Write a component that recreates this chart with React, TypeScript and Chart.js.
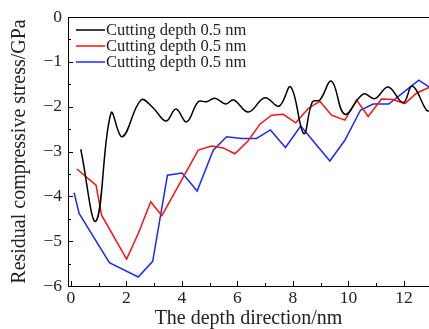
import React, { useEffect, useRef } from "react";
import { Chart, registerables } from "chart.js";

Chart.register(...registerables);

// ---- data ----
const seriesLabels = ["Cutting depth 0.5 nm", "Cutting depth 0.5 nm", "Cutting depth 0.5 nm"];

const blackDepth = [0.36, 0.91, 1.45, 1.86, 2.53, 2.97, 3.43, 3.79, 4.17, 4.59, 4.89, 5.19, 5.58, 5.87, 6.39, 6.99, 7.5, 7.92, 8.39, 8.7, 8.97, 9.39, 9.87, 10.53, 10.95, 11.43, 11.97, 12.3, 12.81, 12.95];
const blackStress = [-2.95, -4.55, -2.14, -2.67, -1.85, -2.03, -2.32, -2.05, -2.34, -1.89, -1.89, -1.81, -1.94, -1.85, -2.12, -1.8, -1.99, -1.56, -2.6, -1.89, -1.85, -1.43, -2.17, -1.72, -1.82, -1.56, -1.91, -1.54, -2.08, -2.1];

const redDepth = [0.22, 0.91, 1.11, 2.01, 2.43, 2.88, 3.28, 4.59, 5.07, 5.49, 5.91, 6.39, 6.81, 7.23, 7.65, 8.1, 8.55, 8.97, 9.39, 9.87, 10.29, 10.71, 11.19, 11.6, 12.03, 12.45, 12.9];
const redStress = [-3.39, -3.75, -4.42, -5.4, -4.83, -4.12, -4.43, -2.97, -2.88, -2.92, -3.05, -2.76, -2.39, -2.19, -2.17, -2.36, -2.04, -1.88, -2.19, -2.3, -1.85, -2.22, -1.83, -1.84, -1.93, -1.7, -1.57];

const blueDepth = [0.12, 0.3, 1.39, 2.43, 2.95, 3.48, 4.01, 4.55, 5.13, 5.61, 6.15, 6.69, 7.19, 7.73, 8.28, 9.33, 9.87, 10.43, 10.89, 11.45, 12.0, 12.53, 12.9];
const blueStress = [-3.92, -4.38, -5.48, -5.8, -5.45, -3.53, -3.48, -3.88, -2.97, -2.67, -2.71, -2.71, -2.52, -2.91, -2.43, -3.21, -2.75, -2.08, -1.94, -1.94, -1.67, -1.41, -1.56];

const xTickValues = [0, 2, 4, 6, 8, 10, 12];
const yTickValues = [0, -1, -2, -3, -4, -5, -6];

const xTitle = "The depth direction/nm";
const yTitle = "Residual compressive stress/GPa";

const FONT = "'Liberation Serif', 'Times New Roman', serif";
const TEXT = "#222";

const toPoints = (xs: number[], ys: number[]) => xs.map((x, i) => ({ x, y: ys[i] }));

const fmt = (v: number) => (v < 0 ? "\u2212" + Math.abs(v) : String(v));

const decorPlugin = {
  id: "decor",
  afterDatasetsDraw(chart: any) {
    const { ctx, chartArea: a, scales } = chart;
    const xs = scales.x;
    const ys = scales.y;
    ctx.save();
    ctx.strokeStyle = "#000";
    ctx.lineWidth = 1;
    // top border
    ctx.beginPath();
    ctx.moveTo(a.left, a.top + 0.5);
    ctx.lineTo(a.right, a.top + 0.5);
    ctx.stroke();
    // inward x ticks
    for (let v = 0; v <= 12; v += 1) {
      const px = Math.round(xs.getPixelForValue(v)) + 0.5;
      const len = v % 2 === 0 ? 5 : 3;
      ctx.beginPath();
      ctx.moveTo(px, a.bottom);
      ctx.lineTo(px, a.bottom - len);
      ctx.stroke();
    }
    // inward y ticks
    for (let v = -6; v <= 0; v += 0.5) {
      const py = Math.round(ys.getPixelForValue(v)) + 0.5;
      const len = Number.isInteger(v) ? 5 : 3;
      ctx.beginPath();
      ctx.moveTo(a.left, py);
      ctx.lineTo(a.left + len, py);
      ctx.stroke();
    }
    // legend inside plot
    const rowY = [30, 46, 62];
    chart.data.datasets.forEach((ds: any, i: number) => {
      const y = rowY[i];
      ctx.strokeStyle = ds.borderColor;
      ctx.lineWidth = 1.5;
      ctx.beginPath();
      ctx.moveTo(a.left + 8, y);
      ctx.lineTo(a.left + 37, y);
      ctx.stroke();
      ctx.fillStyle = TEXT;
      ctx.font = `16.5px ${FONT}`;
      ctx.textBaseline = "middle";
      ctx.textAlign = "left";
      ctx.fillText(ds.label, a.left + 38, y + 1);
    });
    ctx.restore();
  },
};

export default function App() {
  const ref = useRef<HTMLCanvasElement | null>(null);

  useEffect(() => {
    if (!ref.current) return;
    const chart = new Chart(ref.current, {
      type: "line",
      data: {
        datasets: [
          {
            label: seriesLabels[0],
            data: toPoints(blackDepth, blackStress),
            borderColor: "#000000",
            borderWidth: 1.5,
            pointRadius: 0,
            tension: 0.4,
            fill: false,
          },
          {
            label: seriesLabels[1],
            data: toPoints(redDepth, redStress),
            borderColor: "#ff1010",
            borderWidth: 1.5,
            pointRadius: 0,
            tension: 0,
            fill: false,
          },
          {
            label: seriesLabels[2],
            data: toPoints(blueDepth, blueStress),
            borderColor: "#1a2aff",
            borderWidth: 1.5,
            pointRadius: 0,
            tension: 0,
            fill: false,
          },
        ],
      },
      options: {
        responsive: false,
        animation: false,
        layout: { padding: { top: 17, right: 0, left: 0, bottom: 0 } },
        plugins: { legend: { display: false }, tooltip: { enabled: false } },
        scales: {
          x: {
            type: "linear",
            min: -0.1,
            max: 12.9,
            grid: { display: false, drawTicks: false },
            border: { display: true, color: "#000", width: 1 },
            afterBuildTicks: (s: any) => {
              s.ticks = xTickValues.map((v) => ({ value: v }));
            },
            afterFit: (s: any) => {
              s.height = 43;
            },
            ticks: {
              color: TEXT,
              font: { family: FONT, size: 17.5 },
              padding: 2,
              maxRotation: 0,
              autoSkip: false,
              callback: (v: any) => fmt(Number(v)),
            },
            title: {
              display: true,
              text: xTitle,
              color: TEXT,
              font: { family: FONT, size: 20, lineHeight: 1 },
              padding: { top: 0, bottom: 0 },
            },
          },
          y: {
            type: "linear",
            min: -6,
            max: 0,
            grid: { display: false, drawTicks: false },
            border: { display: true, color: "#000", width: 1 },
            afterBuildTicks: (s: any) => {
              s.ticks = yTickValues.map((v) => ({ value: v }));
            },
            afterFit: (s: any) => {
              s.width = 68;
            },
            ticks: {
              color: TEXT,
              font: { family: FONT, size: 17.5 },
              padding: 6,
              autoSkip: false,
              callback: (v: any) => fmt(Number(v)),
            },
            title: {
              display: true,
              text: yTitle,
              color: TEXT,
              font: { family: FONT, size: 20, lineHeight: 1.2 },
              padding: { top: 8, bottom: 0 },
            },
          },
        },
      },
      plugins: [decorPlugin],
    } as any);
    return () => chart.destroy();
  }, []);

  return (
    <div style={{ position: "fixed", left: 0, top: 0, width: 429, height: 329, background: "#fff" }}>
      <canvas ref={ref} width={429} height={329} style={{ display: "block" }} />
    </div>
  );
}
